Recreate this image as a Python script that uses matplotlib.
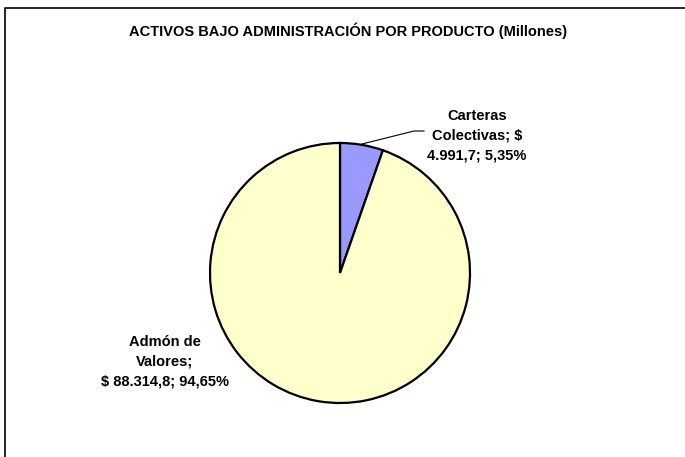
import matplotlib
matplotlib.use("Agg")
import matplotlib.pyplot as plt
from matplotlib.lines import Line2D

plt.rcParams['font.family'] = ['Liberation Sans', 'DejaVu Sans']

title = "ACTIVOS BAJO ADMINISTRACIÓN POR PRODUCTO (Millones)"
products = ["Carteras Colectivas", "Admón de Valores"]
values = [4991.7, 88314.8]
label_texts = ["Carteras\nColectivas; $\n4.991,7; 5,35%",
               "Admón de\nValores;\n$ 88.314,8; 94,65%"]
colors = ["#9999FF", "#FFFFCC"]

W, H = 685, 457
fig = plt.figure(figsize=(W / 100, H / 100), dpi=100)
ax = fig.add_axes([0, 0, 1, 1])

# chart area border (left and top visible)
fig.add_artist(Line2D([5, 5, W + 5], [-5, H - 8, H - 8], transform=ax.transData,
                      color="black", lw=1.2))

cx, cy, r = 340, H - 273, 130
ax.pie(values, colors=colors, startangle=90, counterclock=False,
       center=(cx, cy), radius=r, frame=True,
       wedgeprops=dict(edgecolor="black", linewidth=1.6))
ax.set_xlim(0, W)
ax.set_ylim(0, H)
ax.axis("off")

ax.text(348, H - 31, title, ha="center", va="center", fontsize=10.5, fontweight="bold")

# leader line for small slice
ax.plot([362, 414, 424], [H - 144, H - 131, H - 131], color="black", lw=0.8)

ax.text(477, H - 136, label_texts[0], ha="center", va="center", fontsize=10.5,
        fontweight="bold", linespacing=1.5)
ax.text(165, H - 362, label_texts[1], ha="center", va="center", fontsize=10.5,
        fontweight="bold", linespacing=1.5)

fig.savefig("out.png", dpi=100, facecolor="white")
